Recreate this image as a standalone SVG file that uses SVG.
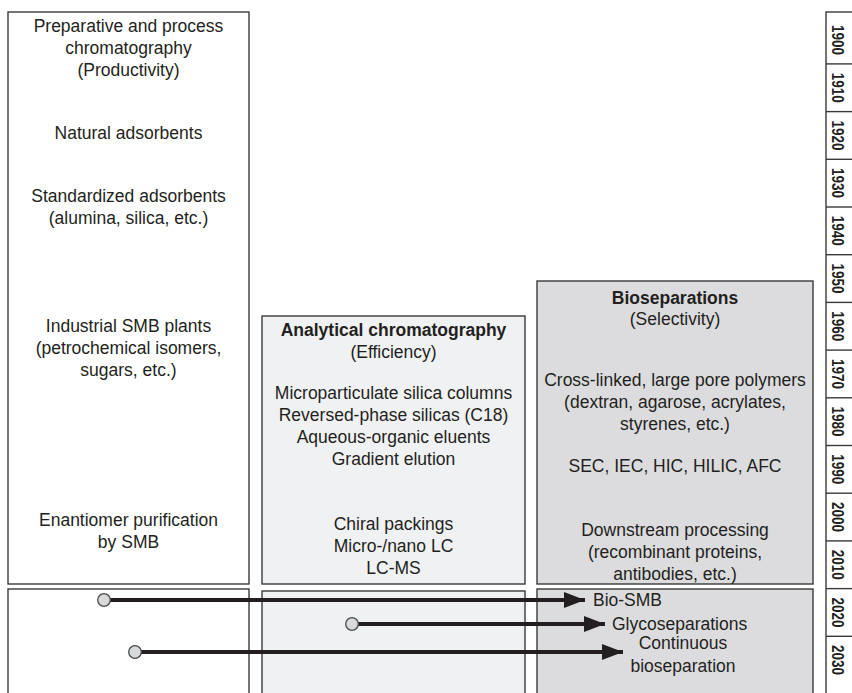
<svg xmlns="http://www.w3.org/2000/svg" width="852" height="693" viewBox="0 0 852 693">
<style>
text{font-family:"Liberation Sans",Arial,Helvetica,sans-serif;font-size:17.5px;fill:#231f20;text-anchor:middle}
.b{font-weight:bold}
.l{text-anchor:start}
.box{stroke:#3a3a3a;stroke-width:1.4}
.w{fill:#ffffff}
.a{fill:#f0f1f3}
.g{fill:#dcdcde}
.yr{font-weight:bold;font-size:17px}
.conn line{stroke:#231f20;stroke-width:4}
.conn circle{fill:#d8d9db;stroke:#4a4a4a;stroke-width:1.3}
</style>
<defs>
<marker id="ah" markerUnits="userSpaceOnUse" markerWidth="22" markerHeight="16" refX="21" refY="8" orient="auto">
<path d="M0,0 L21,8 L0,16 z" fill="#231f20"/>
</marker>
</defs>
<rect width="852" height="693" fill="#ffffff"/>

<g id="prep">
<rect class="box w" x="8" y="12" width="241" height="572"/>
<text x="128.5" y="32">Preparative and process</text>
<text x="128.5" y="54">chromatography</text>
<text x="128.5" y="76">(Productivity)</text>
<text x="128.5" y="139">Natural adsorbents</text>
<text x="128.5" y="202">Standardized adsorbents</text>
<text x="128.5" y="224">(alumina, silica, etc.)</text>
<text x="128.5" y="332">Industrial SMB plants</text>
<text x="128.5" y="354">(petrochemical isomers,</text>
<text x="128.5" y="376">sugars, etc.)</text>
<text x="128.5" y="526">Enantiomer purification</text>
<text x="128.5" y="548">by SMB</text>
</g>

<g id="analytical">
<rect class="box a" x="262" y="316" width="263" height="268"/>
<text class="b" x="393.5" y="336">Analytical chromatography</text>
<text x="393.5" y="358">(Efficiency)</text>
<text x="393.5" y="399">Microparticulate silica columns</text>
<text x="393.5" y="421">Reversed-phase silicas (C18)</text>
<text x="393.5" y="443">Aqueous-organic eluents</text>
<text x="393.5" y="465">Gradient elution</text>
<text x="393.5" y="530">Chiral packings</text>
<text x="393.5" y="552">Micro-/nano LC</text>
<text x="393.5" y="574">LC-MS</text>
</g>

<g id="bio">
<rect class="box g" x="537" y="281" width="276" height="303"/>
<text class="b" x="675" y="304">Bioseparations</text>
<text x="675" y="325">(Selectivity)</text>
<text x="675" y="386">Cross-linked, large pore polymers</text>
<text x="675" y="408">(dextran, agarose, acrylates,</text>
<text x="675" y="430">styrenes, etc.)</text>
<text x="675" y="472">SEC, IEC, HIC, HILIC, AFC</text>
<text x="675" y="536">Downstream processing</text>
<text x="675" y="558">(recombinant proteins,</text>
<text x="675" y="580">antibodies, etc.)</text>
</g>

<g id="prep-future">
<rect class="box w" x="8" y="589" width="241" height="120"/>
</g>
<g id="analytical-future">
<rect class="box a" x="262" y="591" width="263" height="120"/>
</g>
<g id="bio-future">
<rect class="box g" x="537" y="589" width="276" height="120"/>
<text class="l" x="593" y="606">Bio-SMB</text>
<text class="l" x="612" y="630">Glycoseparations</text>
<text x="683" y="649">Continuous</text>
<text x="683" y="672">bioseparation</text>
</g>

<g id="timeline">
<rect class="box w" x="826" y="12" width="30" height="700"/>
<g stroke="#3a3a3a" stroke-width="1.4">
<line x1="826" y1="63.9" x2="852" y2="63.9"/>
<line x1="826" y1="111.6" x2="852" y2="111.6"/>
<line x1="826" y1="159.3" x2="852" y2="159.3"/>
<line x1="826" y1="207" x2="852" y2="207"/>
<line x1="826" y1="254.7" x2="852" y2="254.7"/>
<line x1="826" y1="302.4" x2="852" y2="302.4"/>
<line x1="826" y1="350.1" x2="852" y2="350.1"/>
<line x1="826" y1="397.8" x2="852" y2="397.8"/>
<line x1="826" y1="445.5" x2="852" y2="445.5"/>
<line x1="826" y1="493.2" x2="852" y2="493.2"/>
<line x1="826" y1="540.9" x2="852" y2="540.9"/>
<line x1="826" y1="588.6" x2="852" y2="588.6"/>
<line x1="826" y1="636.3" x2="852" y2="636.3"/>
</g>
<text class="yr" transform="translate(832,40) rotate(90)" textLength="30" lengthAdjust="spacingAndGlyphs">1900</text>
<text class="yr" transform="translate(832,87.7) rotate(90)" textLength="30" lengthAdjust="spacingAndGlyphs">1910</text>
<text class="yr" transform="translate(832,135.4) rotate(90)" textLength="30" lengthAdjust="spacingAndGlyphs">1920</text>
<text class="yr" transform="translate(832,183.1) rotate(90)" textLength="30" lengthAdjust="spacingAndGlyphs">1930</text>
<text class="yr" transform="translate(832,230.8) rotate(90)" textLength="30" lengthAdjust="spacingAndGlyphs">1940</text>
<text class="yr" transform="translate(832,278.5) rotate(90)" textLength="30" lengthAdjust="spacingAndGlyphs">1950</text>
<text class="yr" transform="translate(832,326.2) rotate(90)" textLength="30" lengthAdjust="spacingAndGlyphs">1960</text>
<text class="yr" transform="translate(832,373.9) rotate(90)" textLength="30" lengthAdjust="spacingAndGlyphs">1970</text>
<text class="yr" transform="translate(832,421.6) rotate(90)" textLength="30" lengthAdjust="spacingAndGlyphs">1980</text>
<text class="yr" transform="translate(832,469.3) rotate(90)" textLength="30" lengthAdjust="spacingAndGlyphs">1990</text>
<text class="yr" transform="translate(832,517) rotate(90)" textLength="30" lengthAdjust="spacingAndGlyphs">2000</text>
<text class="yr" transform="translate(832,564.7) rotate(90)" textLength="30" lengthAdjust="spacingAndGlyphs">2010</text>
<text class="yr" transform="translate(832,612.4) rotate(90)" textLength="30" lengthAdjust="spacingAndGlyphs">2020</text>
<text class="yr" transform="translate(832,660.1) rotate(90)" textLength="30" lengthAdjust="spacingAndGlyphs">2030</text>
</g>

<g id="connectors" class="conn">
<line x1="110" y1="600" x2="585" y2="600" marker-end="url(#ah)"/>
<circle cx="104" cy="600" r="6.3"/>
<line x1="358" y1="624" x2="605" y2="624" marker-end="url(#ah)"/>
<circle cx="352" cy="624" r="6.3"/>
<line x1="141" y1="652" x2="623" y2="652" marker-end="url(#ah)"/>
<circle cx="135" cy="652" r="6.3"/>
</g>
</svg>
